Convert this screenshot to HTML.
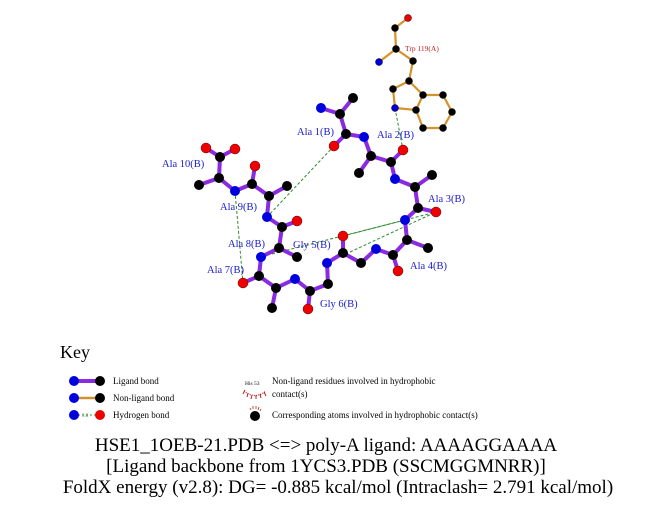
<!DOCTYPE html>
<html><head><meta charset="utf-8"><style>
html,body{margin:0;padding:0;background:#fff;}
svg{display:block;}
text{font-family:"Liberation Serif",serif;}
</style></head><body>
<svg width="651" height="511" viewBox="0 0 651 511" xmlns="http://www.w3.org/2000/svg">
<rect width="651" height="511" fill="#fff"/>
<g stroke="#2e8b2e" stroke-width="1" stroke-dasharray="3,2" fill="none">
<line x1="334" y1="146" x2="267" y2="217"/>
<line x1="395" y1="108" x2="403" y2="150"/>
<line x1="235" y1="191" x2="243" y2="283"/>
<line x1="343" y1="236" x2="436" y2="212"/>
<line x1="350" y1="252" x2="436" y2="212"/>
<line x1="272" y1="254" x2="405" y2="220"/>
</g>
<g stroke="#d4922a" stroke-width="2.2" fill="none">
<polyline points="408,18 395,28 396,49 379,62"/>
<polyline points="396,49 413,61 409,81 393,89 395,108 416,110 423,95 409,81"/>
<polyline points="423,95 443,95 452,112 443,128 423,128 416,110"/>
</g>
<g stroke="#8a2be2" stroke-width="4" fill="none" stroke-linejoin="round">
<polyline points="321,108 340,114 346,134 364,137 371,156 391,162 395,179 415,187 418,208 405,220 407,240 393,255 376,249 361,263 343,253 327,263 328,284 310,291 295,279 276,288 259,276 261,257 279,248 282,227 267,217 269,196 252,184 235,191 219,178 220,157"/>
<line x1="340" y1="114" x2="353" y2="98"/>
<line x1="346" y1="134" x2="334" y2="146"/>
<line x1="371" y1="156" x2="359" y2="173"/>
<line x1="391" y1="162" x2="403" y2="150"/>
<line x1="415" y1="187" x2="432" y2="175"/>
<line x1="418" y1="208" x2="436" y2="212"/>
<line x1="407" y1="240" x2="428" y2="248"/>
<line x1="393" y1="255" x2="398" y2="271"/>
<line x1="343" y1="253" x2="343" y2="236"/>
<line x1="310" y1="291" x2="308" y2="309"/>
<line x1="276" y1="288" x2="272" y2="308"/>
<line x1="259" y1="276" x2="243" y2="283"/>
<line x1="279" y1="248" x2="297" y2="257"/>
<line x1="282" y1="227" x2="297" y2="221"/>
<line x1="269" y1="196" x2="287" y2="186"/>
<line x1="252" y1="184" x2="255" y2="166"/>
<line x1="219" y1="178" x2="199" y2="185"/>
<line x1="220" y1="157" x2="206" y2="148"/>
<line x1="220" y1="157" x2="235" y2="149"/>
</g>
<g stroke="#000" stroke-width="0.5">
<circle cx="408" cy="18" r="3.5" fill="#e00"/>
<g fill="#000">
<circle cx="395" cy="28" r="3.5"/><circle cx="396" cy="49" r="3.5"/><circle cx="413" cy="61" r="3.5"/>
<circle cx="409" cy="81" r="3.5"/><circle cx="393" cy="89" r="3.5"/><circle cx="416" cy="110" r="3.5"/>
<circle cx="423" cy="95" r="3.5"/><circle cx="443" cy="95" r="3.5"/><circle cx="452" cy="112" r="3.5"/>
<circle cx="443" cy="128" r="3.5"/><circle cx="423" cy="128" r="3.5"/>
</g>
<circle cx="379" cy="62" r="3.5" fill="#00d"/>
<circle cx="395" cy="108" r="3.5" fill="#00d"/>
</g>
<g fill="#000">
<circle cx="340" cy="114" r="5"/><circle cx="353" cy="98" r="5"/><circle cx="346" cy="134" r="5"/>
<circle cx="371" cy="156" r="5"/><circle cx="359" cy="173" r="5"/><circle cx="391" cy="162" r="5"/>
<circle cx="415" cy="187" r="5"/><circle cx="432" cy="175" r="5"/><circle cx="418" cy="208" r="5"/>
<circle cx="407" cy="240" r="5"/><circle cx="428" cy="248" r="5"/><circle cx="393" cy="255" r="5"/>
<circle cx="361" cy="263" r="5"/><circle cx="343" cy="253" r="5"/>
<circle cx="328" cy="284" r="5"/><circle cx="310" cy="291" r="5"/>
<circle cx="276" cy="288" r="5"/><circle cx="272" cy="308" r="5"/><circle cx="259" cy="276" r="5"/>
<circle cx="279" cy="248" r="5"/><circle cx="297" cy="257" r="5"/><circle cx="282" cy="227" r="5"/>
<circle cx="269" cy="196" r="5"/><circle cx="287" cy="186" r="5"/><circle cx="252" cy="184" r="5"/>
<circle cx="219" cy="178" r="5"/><circle cx="199" cy="185" r="5"/><circle cx="220" cy="157" r="5"/>
</g>
<g fill="#00d">
<circle cx="321" cy="108" r="5"/><circle cx="364" cy="137" r="5"/><circle cx="395" cy="179" r="5"/>
<circle cx="405" cy="220" r="5"/><circle cx="376" cy="249" r="5"/><circle cx="327" cy="263" r="5"/>
<circle cx="295" cy="279" r="5"/><circle cx="261" cy="257" r="5"/><circle cx="267" cy="217" r="5"/>
<circle cx="235" cy="191" r="5"/>
</g>
<g fill="#e00" stroke="#600" stroke-width="0.5">
<circle cx="334" cy="146" r="5"/><circle cx="403" cy="150" r="5"/><circle cx="436" cy="212" r="5"/>
<circle cx="398" cy="271" r="5"/><circle cx="343" cy="236" r="5"/><circle cx="308" cy="309" r="5"/>
<circle cx="243" cy="283" r="5"/><circle cx="297" cy="221" r="5"/><circle cx="255" cy="166" r="5"/>
<circle cx="206" cy="148" r="5"/><circle cx="235" cy="149" r="5"/>
</g>
<g font-size="10.5" fill="#1a1acc">
<text x="297" y="135">Ala 1(B)</text>
<text x="377" y="138">Ala 2(B)</text>
<text x="162" y="167">Ala 10(B)</text>
<text x="220" y="210">Ala 9(B)</text>
<text x="428" y="202">Ala 3(B)</text>
<text x="228" y="247">Ala 8(B)</text>
<text x="293" y="248">Gly 5(B)</text>
<text x="207" y="273">Ala 7(B)</text>
<text x="410" y="269">Ala 4(B)</text>
<text x="320" y="307">Gly 6(B)</text>
</g>
<text x="405" y="51" font-size="7.5" fill="#c02020">Trp 119(A)</text>
<text x="60" y="358" font-size="18" fill="#000">Key</text>
<line x1="74" y1="381" x2="100" y2="381" stroke="#8a2be2" stroke-width="4"/>
<circle cx="74" cy="381" r="5" fill="#00d"/><circle cx="100" cy="381" r="5" fill="#000"/>
<text x="113" y="384" font-size="9">Ligand bond</text>
<line x1="74" y1="398" x2="100" y2="398" stroke="#d4922a" stroke-width="2.5"/>
<circle cx="74" cy="398" r="5" fill="#00d"/><circle cx="100" cy="398" r="5" fill="#000"/>
<text x="113" y="401" font-size="9">Non-ligand bond</text>
<line x1="74" y1="415" x2="100" y2="415" stroke="#2e8b2e" stroke-width="1" stroke-dasharray="2,2"/>
<text x="82" y="417" font-size="5" fill="#2e8b2e">3.0</text>
<circle cx="74" cy="415" r="5" fill="#00d"/><circle cx="100" cy="415" r="5" fill="#e00"/>
<text x="113" y="418" font-size="9">Hydrogen bond</text>
<text x="245" y="385" font-size="5.5">His 53</text>
<path d="M244,391 Q255,400 266,391" stroke="#c02020" stroke-width="1.2" fill="none" stroke-dasharray="1,1.2"/>
<path d="M245,390 L243,394 M248,393 L247,397 M252,395 L251,399 M256,395 L256,399 M260,394 L261,398 M264,392 L266,396" stroke="#c02020" stroke-width="1"/>
<text x="272" y="384" font-size="9">Non-ligand residues involved in hydrophobic</text>
<text x="272" y="397" font-size="9">contact(s)</text>
<circle cx="255" cy="416" r="5" fill="#000"/>
<path d="M250,408 L251,410 M253,406 L253,409 M256,406 L256,409 M259,407 L258,410 M261,409 L260,411" stroke="#c02020" stroke-width="0.8"/>
<text x="272" y="418" font-size="9">Corresponding atoms involved in hydrophobic contact(s)</text>
<g font-size="19" fill="#000" text-anchor="middle">
<text x="326" y="451">HSE1_1OEB-21.PDB &lt;=&gt; poly-A ligand: AAAAGGAAAA</text>
<text x="326" y="472">[Ligand backbone from 1YCS3.PDB (SSCMGGMNRR)]</text>
<text x="338" y="493">FoldX energy (v2.8): DG= -0.885 kcal/mol (Intraclash= 2.791 kcal/mol)</text>
</g>
</svg>
</body></html>
